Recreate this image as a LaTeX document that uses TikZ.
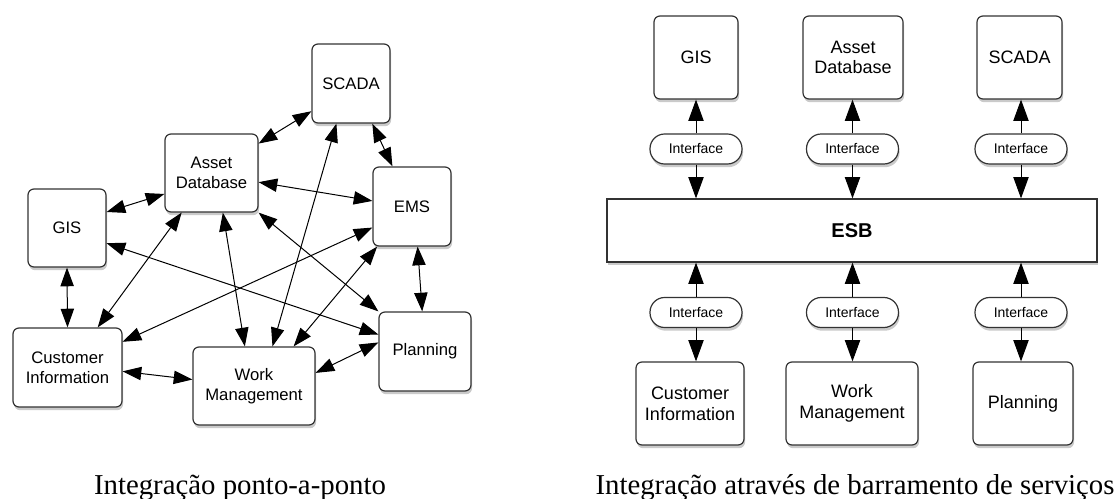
\documentclass[tikz,border=0pt]{standalone}
\usepackage{fontspec}
\setmainfont{Liberation Serif}
\setsansfont{Liberation Sans}
\usetikzlibrary{arrows.meta,shadows,calc}
\begin{document}
\begin{tikzpicture}[x=0.75pt,y=-0.75pt,
  shade/.style={drop shadow={shadow xshift=0.8pt, shadow yshift=-2.4pt, opacity=0.35, fill=black!60}},
  sbox/.style={draw=black!80, line width=0.9pt, rounded corners=4.5pt, fill=white, inner sep=0pt, align=center,
    font=\sffamily\fontsize{12.5}{15}\selectfont, shade},
  rbox/.style={sbox, font=\sffamily\fontsize{13.5}{15.5}\selectfont},
  iface/.style={draw=black!80, line width=0.9pt, rounded corners=11pt, fill=white, inner sep=0pt,
    minimum width=69pt, minimum height=22.5pt, font=\sffamily\fontsize{10.5}{12}\selectfont, shade},
  esbbox/.style={draw=black!80, line width=0.9pt, fill=white, inner sep=0pt, minimum width=367.5pt,
    minimum height=47.25pt, font=\sffamily\bfseries\fontsize{15}{18}\selectfont, shade},
  link/.style={line width=0.75pt, {Triangle[length=14pt,width=10pt]}-{Triangle[length=14pt,width=10pt]}},
  rarr/.style={line width=0.75pt, -{Triangle[length=16pt,width=11.5pt]}},
  caption/.style={font=\fontsize{21.6}{24}\selectfont, anchor=base, inner sep=0pt}
]
\useasboundingbox (0,0) rectangle (1120,499);

% ---------- left: point-to-point ----------
\node[sbox, minimum width=58.5pt, minimum height=59.25pt] (scada) at (351,83.5) {SCADA};
\node[sbox, minimum width=69.75pt, minimum height=58.5pt] (asset) at (211.5,173) {Asset\\Database};
\node[sbox, minimum width=58.5pt, minimum height=59.25pt] (ems) at (412,206.5) {EMS};
\node[sbox, minimum width=58.5pt, minimum height=58.5pt] (gis) at (67,228) {GIS};
\node[sbox, minimum width=81.75pt, minimum height=59.25pt] (cust) at (67.5,367.5) {Customer\\Information};
\node[sbox, minimum width=91.5pt, minimum height=58.5pt] (wm) at (254,386) {Work\\Management};
\node[sbox, minimum width=69pt, minimum height=59.25pt] (plan) at (425,351.5) {Planning};

\draw[link] (asset.32.8) -- (scada.-145.8);
\draw[link] (scada.-62) -- (ems.116.9);
\draw[link] (asset.-11) -- (ems.172);
\draw[link] (asset.-156.7) -- (gis.22.3);
\draw[link] (scada.-110.8) -- (wm.65.2);
\draw[link] (asset.-74.9) -- (wm.103);
\draw[link] (asset.-127.1) -- (cust.53.2);
\draw[link] (gis.-21) -- (plan.160.3);
\draw[link] (asset.south east) -- (plan.north west);
\draw[link] (ems.-152.3) -- (cust.25.1);
\draw[link] (ems.-131.5) -- (wm.45.7);
\draw[link] (ems.-82.8) -- (plan.94.3);
\draw[link] (gis.south) -- (cust.north);
\draw[link] (cust.-4.7) -- (wm.174.4);
\draw[link] (wm.12) -- (plan.169.5);

\node[caption] (cap1) at (240,494) {Integração ponto-a-ponto};

% ---------- right: service bus ----------
\node[rbox, minimum width=63pt, minimum height=62.25pt] (rgis) at (696,57.5) {GIS};
\node[rbox, minimum width=75pt, minimum height=62.25pt] (rasset) at (853,57.5) {Asset\\Database};
\node[rbox, minimum width=63.75pt, minimum height=62.25pt] (rscada) at (1019.5,57.5) {SCADA};

\node[iface] (ti1) at (696,149) {Interface};
\node[iface] (ti2) at (852.5,149) {Interface};
\node[iface] (ti3) at (1021,149) {Interface};

\node[esbbox] (esb) at (852,230.5) {ESB};

\node[iface] (bi1) at (696,312.5) {Interface};
\node[iface] (bi2) at (852.5,312.5) {Interface};
\node[iface] (bi3) at (1021,312.5) {Interface};

\node[rbox, minimum width=81pt, minimum height=62.25pt] (rcust) at (690,403.5) {Customer\\Information};
\node[rbox, minimum width=99pt, minimum height=62.25pt] (rwm) at (852,403.5) {Work\\Management};
\node[rbox, minimum width=75pt, minimum height=62.25pt] (rplan) at (1023,403.5) {Planning};

\draw[rarr] (ti1.north) -- (ti1.north |- rgis.south);
\draw[rarr] (ti2.north) -- (ti2.north |- rasset.south);
\draw[rarr] (ti3.north) -- (ti3.north |- rscada.south);
\draw[rarr] (ti1.south) -- (ti1.south |- esb.north);
\draw[rarr] (ti2.south) -- (ti2.south |- esb.north);
\draw[rarr] (ti3.south) -- (ti3.south |- esb.north);
\draw[rarr] (bi1.north) -- (bi1.north |- esb.south);
\draw[rarr] (bi2.north) -- (bi2.north |- esb.south);
\draw[rarr] (bi3.north) -- (bi3.north |- esb.south);
\draw[rarr] (bi1.south) -- (bi1.south |- rcust.north);
\draw[rarr] (bi2.south) -- (bi2.south |- rwm.north);
\draw[rarr] (bi3.south) -- (bi3.south |- rplan.north);

\node[caption] (cap2) at (855,494) {Integração através de barramento de serviços};
\end{tikzpicture}
\end{document}
